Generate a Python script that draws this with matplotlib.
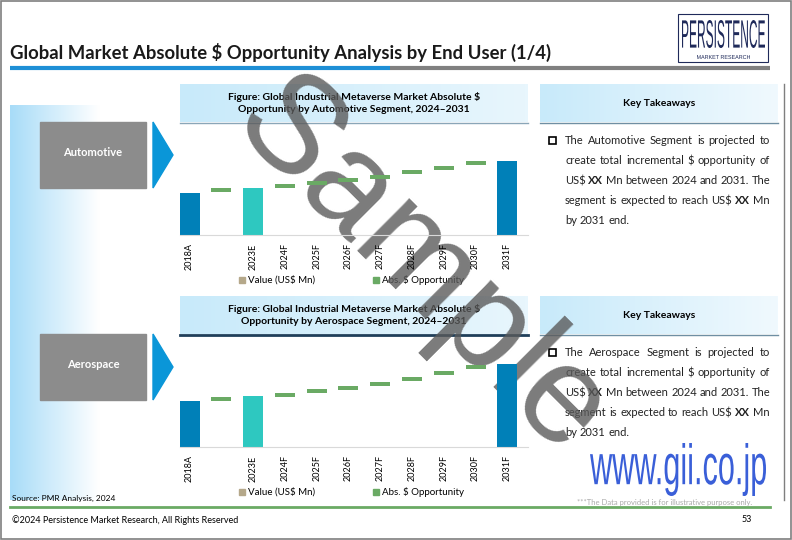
import matplotlib
matplotlib.use("Agg")
from matplotlib import pyplot as plt
from matplotlib.patches import Rectangle, Polygon, PathPatch
from matplotlib.textpath import TextPath
from matplotlib.font_manager import FontProperties
from matplotlib.transforms import Affine2D
import numpy as np

plt.rcParams["font.family"] = "Lato"

# ---- data (arbitrary units) ----
years = ["2018A", "", "2023E", "2024F", "2025F", "2026F", "2027F",
         "2028F", "2029F", "2030F", "2031F"]
bar_slots = [0, 2, 10]
dash_slots = [1, 3, 4, 5, 6, 7, 8, 9]

auto_values = [125, 142, 223]
auto_opportunity = [135, 147, 155, 165, 175, 188, 201, 215]

aero_values = [137, 152, 250]
aero_opportunity = [145, 157, 168, 178, 190, 205, 221, 241]

segments = ["Automotive", "Aerospace"]
chart_titles = [
    "Figure: Global Industrial Metaverse Market Absolute $\nOpportunity by Automotive Segment, 2024\u20132031",
    "Figure: Global Industrial Metaverse Market Absolute $\nOpportunity by Aerospace Segment, 2024\u20132031",
]
takeaways = [
    [[("The Automotive Segment is projected to", False)],
     [("create total incremental $ opportunity of", False)],
     [("US$ ", False), ("XX", True), (" Mn between 2024 and 2031. The", False)],
     [("segment is expected to reach US$ ", False), ("XX", True), (" Mn", False)],
     [("by 2031 end.", False)]],
    [[("The Aerospace Segment is projected to", False)],
     [("create total incremental $ opportunity of", False)],
     [("US$ ", False), ("XX", True), (" Mn between 2024 and 2031. The", False)],
     [("segment is expected to reach US$ ", False), ("XX", True), (" Mn", False)],
     [("by 2031 end.", False)]],
]

W, H = 792, 540
fig = plt.figure(figsize=(7.92, 5.4), dpi=100)
bg = fig.add_axes([0, 0, 1, 1])
bg.set_xlim(0, W)
bg.set_ylim(H, 0)
bg.axis("off")


def fit_text(s, x0, y0, x1, y1, color, family="Liberation Sans", weight="normal", **kw):
    # draw text squeezed into the box (x0,y0)-(x1,y1), y down
    tp = TextPath((0, 0), s, size=10, prop=FontProperties(family=family, weight=weight))
    ext = tp.get_extents()
    sx = (x1 - x0) / ext.width
    sy = (y1 - y0) / ext.height
    tr = Affine2D().translate(-ext.x0, -ext.y0).scale(sx, -sy).translate(x0, y1)
    bg.add_patch(PathPatch(tr.transform_path(tp), color=color, lw=0, **kw))


# slide border
bg.add_patch(Rectangle((1, 1), W - 2, H - 2, fill=False, ec="#7f7f7f", lw=1.2))

# title + rule
bg.text(10, 52, "Global Market Absolute $ Opportunity Analysis by End User (1/4)",
        fontsize=13.3, fontweight="bold", va="center", color="#1a1a1a")
bg.plot([10, 390], [68, 68], color="#1e8fd6", lw=3, solid_capstyle="butt")
bg.plot([390, 770], [68, 68], color="#808080", lw=3, solid_capstyle="butt")

# logo
bg.add_patch(Rectangle((678, 14), 90, 48, fill=False, ec="#1f2a5a", lw=0.8))
fit_text("PERSISTENCE", 682, 20, 765, 48, "#1f2a5a")
fit_text("MARKET RESEARCH", 697, 55, 750, 59, "#1f2a5a")

# left gradient strip
grad = np.linspace(0, 1, 100)[None, :]
cmap = matplotlib.colors.LinearSegmentedColormap.from_list("g", ["#a8dcf8", "#ffffff"])
bg.imshow(grad, extent=(10, 100, 500, 105), cmap=cmap, aspect="auto", zorder=0)

fig.canvas.draw()
renderer = fig.canvas.get_renderer()

for i, seg in enumerate(segments):
    top = 122 + i * 212
    bg.add_patch(Rectangle((40, top), 106, 66, color="#8c8c8c"))
    bg.text(93, top + 31, seg, color="white", fontsize=8, fontweight="bold",
            ha="center", va="center")
    bg.add_patch(Polygon([(153, top), (173, top + 33), (153, top + 66)],
                         color="#0a96d8"))

    # chart header
    htop = 84 + i * 212
    bg.imshow(grad, extent=(180, 528, htop + 38, htop), aspect="auto",
              cmap=matplotlib.colors.LinearSegmentedColormap.from_list(
                  "h", ["#c8eafa", "#e8f6fd"]), zorder=0)
    bg.plot([180, 528], [htop + 39, htop + 39],
            color="#8aa6b8" if i == 0 else "#1f3f5a", lw=1 if i == 0 else 2)
    bg.text(354, htop + 19, chart_titles[i], fontsize=7.5, fontweight="bold",
            ha="center", va="center", linespacing=1.3)

    # key takeaways header
    bg.imshow(grad, extent=(540, 778, htop + 38, htop), aspect="auto",
              cmap=matplotlib.colors.LinearSegmentedColormap.from_list(
                  "k", ["#c8eafa", "#f0f9fe"]), zorder=0)
    bg.plot([540, 778], [htop + 39, htop + 39], color="#6f8fa3", lw=1)
    bg.text(659, htop + 19, "Key Takeaways", fontsize=7.5, fontweight="bold",
            ha="center", va="center")

    # takeaway text (justified except last line)
    ytxt = htop + 57
    bg.add_patch(Rectangle((549, ytxt - 4), 7, 7, fill=False, ec="black", lw=1.2))
    for k, line in enumerate(takeaways[i]):
        words = []
        for txt, bold in line:
            for w in txt.split(" "):
                if w:
                    words.append((w, bold))
        arts = []
        total = 0
        for w, bold in words:
            t = bg.text(0, ytxt, w, fontsize=8, va="center",
                        fontweight="bold" if bold else "normal", color="#222222")
            wd = t.get_window_extent(renderer).width * (W / fig.bbox.width)
            arts.append((t, wd))
            total += wd
        last = k == len(takeaways[i]) - 1
        gap = 3.0 if last or len(arts) < 2 else (770 - 565 - total) / (len(arts) - 1)
        x = 565
        for t, wd in arts:
            t.set_x(x)
            x += wd + gap
        ytxt += 20

    # charts
    base = 235 + i * 212
    axtop = 125 + i * 210
    ax = fig.add_axes([180 / W, 1 - base / H, 348 / W, (base - axtop) / H])
    vals = auto_values if i == 0 else aero_values
    opp = auto_opportunity if i == 0 else aero_opportunity
    ax.bar(bar_slots, vals, width=0.63, color=["#0080b8", "#2ec8c0", "#0080b8"])
    ax.bar(dash_slots, [12] * len(opp), bottom=np.array(opp) - 6, width=0.63,
           color="#6aaa64")
    ax.set_xlim(-0.3, 10.65)
    ax.set_ylim(0, 3 * (base - axtop))
    ax.set_xticks(range(len(years)))
    ax.set_xticklabels(years, rotation=90, fontsize=6.5)
    ax.tick_params(length=0, pad=6)
    ax.set_yticks([])
    for s in ["top", "left", "right"]:
        ax.spines[s].set_visible(False)
    ax.spines["bottom"].set_color("#d9d9d9")
    ax.patch.set_alpha(0)

    # legend
    ly = base + 45
    bg.add_patch(Rectangle((239, ly - 3), 6, 6, color="#b5a88a"))
    bg.text(248, ly, "Value (US$ Mn)", fontsize=7, va="center")
    bg.add_patch(Rectangle((373, ly - 3), 6, 6, color="#6aaa64"))
    bg.text(382, ly, "Abs. $ Opportunity", fontsize=7, va="center")

# right border line
bg.plot([784, 784], [84, 500], color="#7f7f7f", lw=1)

# watermark
bg.text(420, 270, "Sample", fontsize=100, color="#5a5a5a", alpha=0.8,
        rotation=-45, ha="center", va="center", fontfamily="Liberation Sans",
        zorder=10)

# gii logo
fit_text("www.gii.co.jp", 590, 443, 766, 496, "#3a5fd8", zorder=11)

# footer
bg.text(12, 498, "Source: PMR Analysis, 2024", fontsize=6, va="center")
bg.text(752, 502, "***The Data provided is for illustrative purpose only.",
        fontsize=5.5, color="#aaaaaa", ha="right", va="center")
bg.plot([10, 770], [507, 507], color="#6aaa64", lw=2)
bg.text(12, 520, "\u00a92024 Persistence Market Research, All Rights Reserved",
        fontsize=6.5, va="center")
bg.text(752, 520, "53", fontsize=6.5, ha="right", va="center")

fig.savefig("out.png", dpi=100)
